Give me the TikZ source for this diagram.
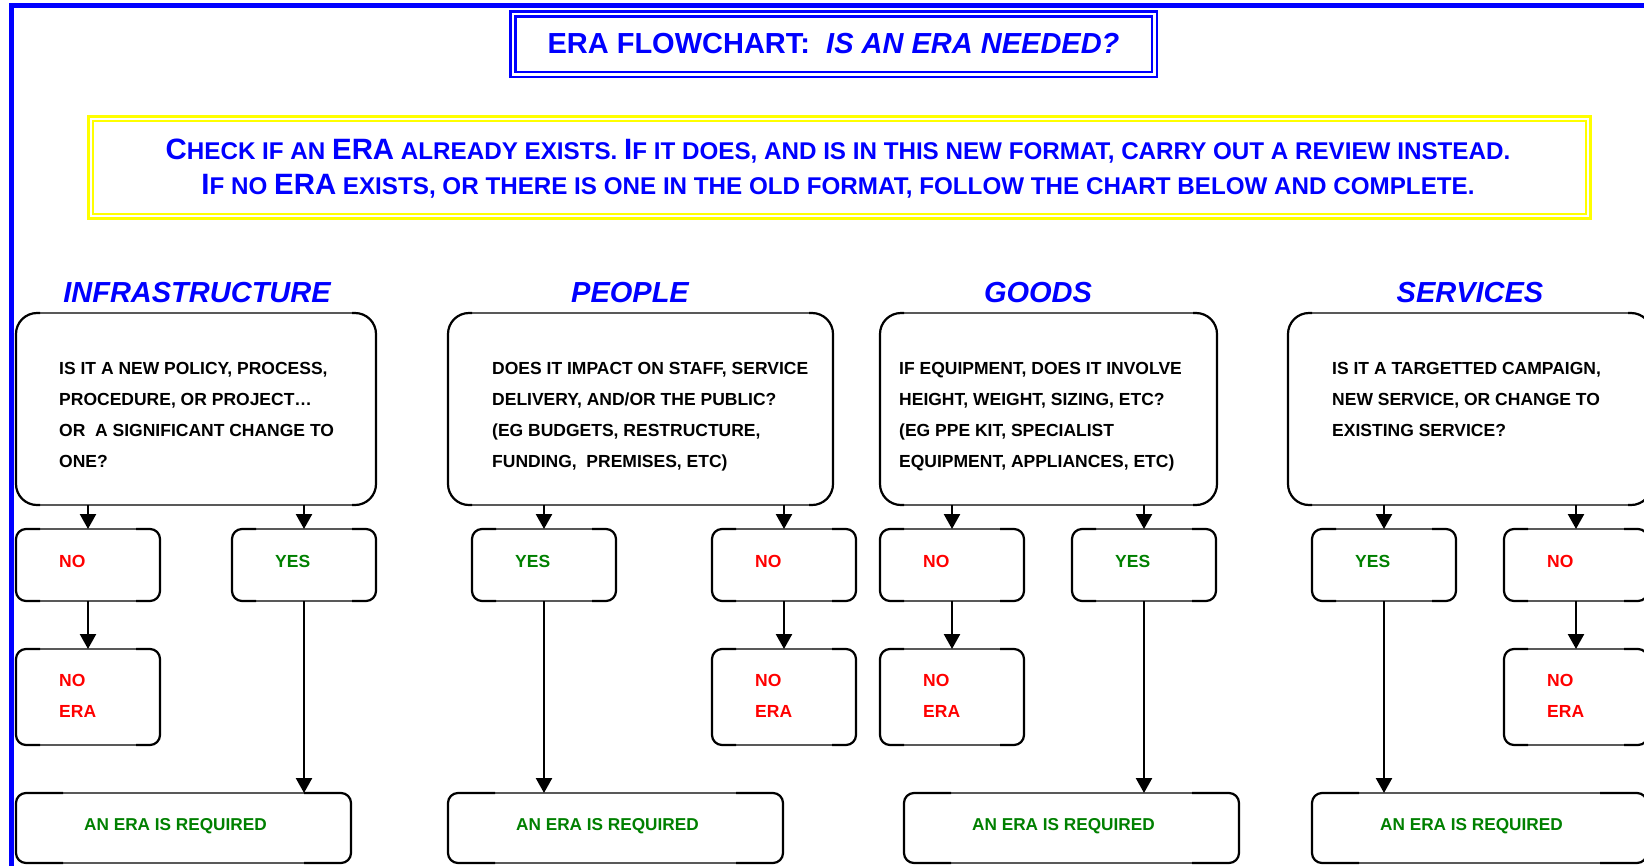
\documentclass[tikz,border=0pt]{standalone}
\usepackage{fontspec}
\setmainfont{Liberation Sans}
\usetikzlibrary{arrows.meta}
\definecolor{eblue}{RGB}{0,0,255}
\definecolor{eyellow}{RGB}{255,255,0}
\definecolor{ered}{RGB}{255,0,0}
\definecolor{egreen}{RGB}{0,128,0}
\newcommand\BG[1]{{\fontsize{29.4}{35}\selectfont #1}}
\newcommand\cornerhl[3]{%
  \draw[thk, rounded corners=#3] ([xshift=#2]#1.north west) -- (#1.north west) -- (#1.south west) -- ([xshift=#2]#1.south west);
  \draw[thk, rounded corners=#3] ([xshift=-#2]#1.north east) -- (#1.north east) -- (#1.south east) -- ([xshift=-#2]#1.south east);}
\begin{document}
\begin{tikzpicture}[x=1pt,y=-1pt,
  bx/.style={draw=black, line width=1.1pt, outer sep=0pt, inner sep=0pt},
  qbox/.style={bx, rounded corners=21pt, minimum height=192pt},
  sbox/.style={bx, rounded corners=10pt, minimum width=144pt},
  rbox/.style={bx, rounded corners=10pt, minimum width=335pt, minimum height=70pt},
  thk/.style={draw=black, line width=2.2pt},
  arr/.style={line width=2.4pt, -{Triangle[length=15pt,width=16pt]}},
  qtext/.style={anchor=base west, inner sep=0pt, font=\fontsize{17.5}{31}\selectfont\bfseries, text=black},
  lab/.style={anchor=base west, inner sep=0pt, font=\fontsize{17.5}{31}\selectfont\bfseries},
  req/.style={anchor=base west, inner sep=0pt, font=\fontsize{17.2}{20}\selectfont\bfseries, text=egreen},
  head/.style={anchor=base, inner sep=0pt, font=\fontsize{29}{32}\selectfont\bfseries\itshape, text=eblue}
]
\useasboundingbox (0,0) rectangle (1644,865);
\clip (0,0) rectangle (1644,865);
\fill[white] (0,0) rectangle (1644,865);
% frame
\draw[eblue, line width=5.5pt] (11.25,5.5) rectangle (1720,950);
% title
\node[draw=eblue, line width=2.5pt, minimum width=646.5pt, minimum height=65.5pt, inner sep=0pt, outer sep=0pt,
  font=\fontsize{29}{32}\selectfont\bfseries, text=eblue] (title) at (833.5,44)
  {ERA FLOWCHART:\ \ \textit{IS AN ERA NEEDED?}};
\draw[eblue, line width=2.5pt] ([shift={(5,5)}]title.north west) rectangle ([shift={(-5,-5)}]title.south east);
% note
\node[draw=eyellow, line width=3pt, minimum width=1501.5pt, minimum height=102.5pt, inner sep=0pt, outer sep=0pt] (note) at (839.25,167.25) {};
\draw[eyellow, line width=2pt] ([shift={(4.5,4.5)}]note.north west) rectangle ([shift={(-4.5,-4.5)}]note.south east);
\node[anchor=base, inner sep=0pt, text=eblue, font=\fontsize{24.2}{35}\selectfont\bfseries] (notetext) at (838,159)
  {\parbox[t]{1560pt}{\centering
  \BG{C}HECK IF AN \BG{ERA} ALREADY EXISTS. \BG{I}F IT DOES, AND IS IN THIS NEW FORMAT, CARRY OUT A REVIEW INSTEAD.\\
  \BG{I}F NO \BG{ERA} EXISTS, OR THERE IS ONE IN THE OLD FORMAT, FOLLOW THE CHART BELOW AND COMPLETE.}};
% headings
\node[head] (hi) at (197,302) {INFRASTRUCTURE};
\node[head] (hp) at (630,302) {PEOPLE};
\node[head] (hg) at (1038,302) {GOODS};
\node[head] (hs) at (1470,302) {SERVICES};
% question boxes
\node[qbox, minimum width=360pt] (iq) at (196,409) {};
\node[qbox, minimum width=385pt] (pq) at (640.5,409) {};
\node[qbox, minimum width=337pt] (gq) at (1048.5,409) {};
\node[qbox, minimum width=364pt] (sq) at (1470,409) {};
% first row
\node[sbox, minimum height=72pt] (ino) at (88,565) {};
\node[sbox, minimum height=72pt] (iyes) at (304,565) {};
\node[sbox, minimum height=72pt] (pyes) at (544,565) {};
\node[sbox, minimum height=72pt] (pno) at (784,565) {};
\node[sbox, minimum height=72pt] (gno) at (952,565) {};
\node[sbox, minimum height=72pt] (gyes) at (1144,565) {};
\node[sbox, minimum height=72pt] (syes) at (1384,565) {};
\node[sbox, minimum height=72pt] (sno) at (1576,565) {};
% second row
\node[sbox, minimum height=96pt] (inoera) at (88,697) {};
\node[sbox, minimum height=96pt] (pnoera) at (784,697) {};
\node[sbox, minimum height=96pt] (gnoera) at (952,697) {};
\node[sbox, minimum height=96pt] (snoera) at (1576,697) {};
% bottom
\node[rbox] (ireq) at (183.5,828) {};
\node[rbox] (preq) at (615.5,828) {};
\node[rbox] (greq) at (1071.5,828) {};
\node[rbox] (sreq) at (1479.5,828) {};
% thick corners
\foreach \n in {iq,pq,gq,sq} {\cornerhl{\n}{24}{21}}
\foreach \n in {ino,iyes,pyes,pno,gno,gyes,syes,sno,inoera,pnoera,gnoera,snoera} {\cornerhl{\n}{24}{10}}
\foreach \n in {ireq,preq,greq,sreq} {\cornerhl{\n}{47}{10}}
% arrows
\foreach \q/\a/\b in {iq/ino/iyes, pq/pyes/pno, gq/gno/gyes, sq/syes/sno} {
  \draw[arr] (\a.north |- \q.south) -- (\a.north);
  \draw[arr] (\b.north |- \q.south) -- (\b.north);
}
\foreach \a/\b in {ino/inoera, pno/pnoera, gno/gnoera, sno/snoera} {\draw[arr] (\a.south) -- (\b.north);}
\foreach \a/\b in {iyes/ireq, pyes/preq, gyes/greq, syes/sreq} {\draw[arr] (\a.south) -- (\a.south |- \b.north);}
% question texts
\node[qtext] (iqt) at (59,374) {\parbox[t]{320pt}{IS IT A NEW POLICY, PROCESS,\\PROCEDURE, OR PROJECT…\\OR\ \ A SIGNIFICANT CHANGE TO\\ONE?}};
\node[qtext] (pqt) at (492,374) {\parbox[t]{340pt}{DOES IT IMPACT ON STAFF, SERVICE\\DELIVERY, AND/OR THE PUBLIC?\\(EG BUDGETS, RESTRUCTURE,\\FUNDING,\ \ PREMISES, ETC)}};
\node[qtext] (gqt) at (899,374) {\parbox[t]{320pt}{IF EQUIPMENT, DOES IT INVOLVE\\HEIGHT, WEIGHT, SIZING, ETC?\\(EG PPE KIT, SPECIALIST\\EQUIPMENT, APPLIANCES, ETC)}};
\node[qtext] (sqt) at (1332,374) {\parbox[t]{320pt}{IS IT A TARGETTED CAMPAIGN,\\NEW SERVICE, OR CHANGE TO\\EXISTING SERVICE?}};
% labels
\node[lab, text=ered] (inot) at (59,567) {NO};
\node[lab, text=egreen] (iyest) at (275,567) {YES};
\node[lab, text=egreen] (pyest) at (515,567) {YES};
\node[lab, text=ered] (pnot) at (755,567) {NO};
\node[lab, text=ered] (gnot) at (923,567) {NO};
\node[lab, text=egreen] (gyest) at (1115,567) {YES};
\node[lab, text=egreen] (syest) at (1355,567) {YES};
\node[lab, text=ered] (snot) at (1547,567) {NO};
\foreach \n/\x in {inoerat/59, pnoerat/755, gnoerat/923, snoerat/1547} {
  \node[lab, text=ered] (\n) at (\x,686) {\parbox[t]{80pt}{NO\\ERA}};
}
\foreach \n/\x in {ireqt/84, preqt/516, greqt/972, sreqt/1380} {
  \node[req] (\n) at (\x,830) {AN ERA IS REQUIRED};
}
\end{tikzpicture}
\end{document}
